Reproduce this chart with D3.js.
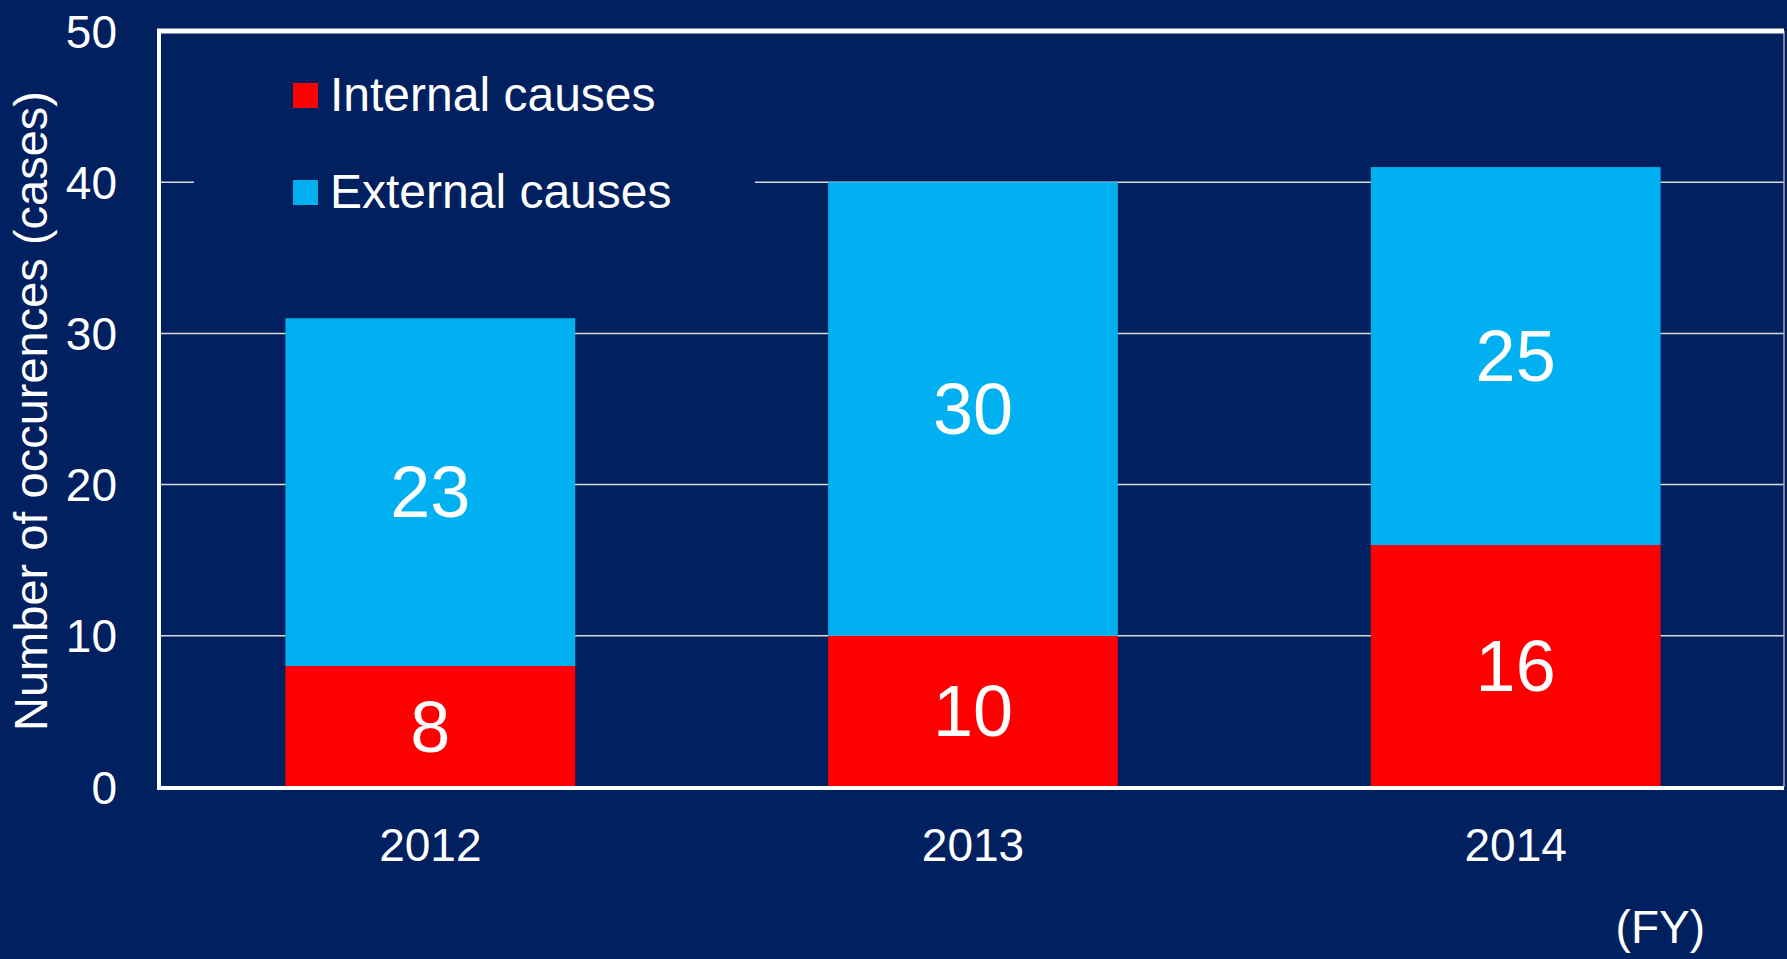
<!DOCTYPE html>
<html>
<head>
<meta charset="utf-8">
<script src="https://cdn.jsdelivr.net/npm/d3@7"></script>
<style>
  html, body { margin: 0; padding: 0; background: #002060; }
  svg { display: block; }
  text { font-family: "Liberation Sans", Arial, sans-serif; fill: #ffffff; }
</style>
</head>
<body>
<svg id="chart" width="1787" height="959"></svg>
<script>
// Fiscal years on the x axis
const years = ["2012", "2013", "2014"];
// Number of occurrences per cause, stacked bottom (internal) to top (external)
const internalCauses = [8, 10, 16];
const externalCauses = [23, 30, 25];
const seriesNames = ["Internal causes", "External causes"];
const seriesColors = ["#ff0000", "#00b0f0"];
const yTicks = [0, 10, 20, 30, 40, 50];

const W = 1787, H = 959;
const plot = { left: 159, right: 1784, top: 31, bottom: 787 };
const bg = "#002060";

const svg = d3.select("#chart");

const x = d3.scaleBand()
  .domain(years)
  .range([plot.left, W])
  .paddingInner(0.466)
  .paddingOuter(0.233);

const y = d3.scaleLinear()
  .domain([0, 50])
  .range([plot.bottom, plot.top]);

// Horizontal gridlines
svg.append("g")
  .selectAll("line")
  .data(yTicks.filter(t => t > 0 && t < 50))
  .join("line")
  .attr("x1", plot.left)
  .attr("x2", plot.right)
  .attr("y1", d => y(d))
  .attr("y2", d => y(d))
  .attr("stroke", "#d9d9d9")
  .attr("stroke-width", 1.5);

// Right edge of the plot frame
svg.append("line")
  .attr("x1", plot.right).attr("x2", plot.right)
  .attr("y1", plot.top).attr("y2", plot.bottom)
  .attr("stroke", "#a6a6a6").attr("stroke-width", 1.5);

// Stack the two series
const rows = years.map((yr, i) => ({ year: yr, internal: internalCauses[i], external: externalCauses[i] }));
const stack = d3.stack().keys(["internal", "external"]);
const layers = stack(rows);

const layerG = svg.append("g")
  .selectAll("g")
  .data(layers)
  .join("g")
  .attr("fill", (d, i) => seriesColors[i]);

layerG.selectAll("rect")
  .data(d => d)
  .join("rect")
  .attr("x", d => x(d.data.year))
  .attr("width", x.bandwidth())
  .attr("y", d => y(d[1]))
  .attr("height", d => y(d[0]) - y(d[1]));

// Value labels centred in each segment
layerG.selectAll("text")
  .data(d => d.map(s => ({ s, key: d.key })))
  .join("text")
  .attr("x", d => x(d.s.data.year) + x.bandwidth() / 2)
  .attr("y", d => y((d.s[0] + d.s[1]) / 2))
  .attr("text-anchor", "middle")
  .attr("dominant-baseline", "central")
  .attr("font-size", 72)
  .text(d => d.s.data[d.key]);

// Legend panel (sits over the gridline)
const legend = svg.append("g");
legend.append("rect")
  .attr("x", 194).attr("y", 45)
  .attr("width", 561).attr("height", 190)
  .attr("fill", bg);

const legendItems = legend.selectAll("g")
  .data(seriesNames)
  .join("g")
  .attr("transform", (d, i) => `translate(293, ${83 + i * 97})`);
legendItems.append("rect")
  .attr("width", 25).attr("height", 25)
  .attr("fill", (d, i) => seriesColors[i]);
legendItems.append("text")
  .attr("x", 37).attr("y", 28)
  .attr("font-size", 48)
  .text(d => d);

// Axis frame lines: left, bottom, top
svg.append("line")
  .attr("x1", plot.left).attr("x2", plot.left)
  .attr("y1", plot.top - 2).attr("y2", plot.bottom + 2)
  .attr("stroke", "#ffffff").attr("stroke-width", 4);
svg.append("line")
  .attr("x1", plot.left - 2).attr("x2", plot.right)
  .attr("y1", plot.bottom + 1).attr("y2", plot.bottom + 1)
  .attr("stroke", "#ffffff").attr("stroke-width", 4);
svg.append("line")
  .attr("x1", plot.left - 2).attr("x2", plot.right)
  .attr("y1", plot.top).attr("y2", plot.top)
  .attr("stroke", "#ffffff").attr("stroke-width", 5);

// Y tick labels
const yAxis = svg.append("g")
  .attr("transform", `translate(${plot.left},0)`)
  .call(d3.axisLeft(y).tickValues(yTicks).tickSize(0).tickPadding(42));
yAxis.select(".domain").remove();
yAxis.selectAll("text")
  .attr("font-size", 46)
  .attr("font-family", "Liberation Sans, Arial, sans-serif")
  .attr("fill", "#ffffff")
  .attr("dy", "0.35em");

// X tick labels
const xAxis = svg.append("g")
  .attr("transform", `translate(0,${plot.bottom})`)
  .call(d3.axisBottom(x).tickSize(0).tickPadding(41));
xAxis.select(".domain").remove();
xAxis.selectAll("text")
  .attr("font-size", 46)
  .attr("font-family", "Liberation Sans, Arial, sans-serif")
  .attr("fill", "#ffffff");

// Y axis title
svg.append("text")
  .attr("transform", `translate(47, 411) rotate(-90)`)
  .attr("text-anchor", "middle")
  .attr("font-size", 47)
  .text("Number of occurences (cases)");

// Unit note for the x axis
svg.append("text")
  .attr("x", 1705).attr("y", 943)
  .attr("text-anchor", "end")
  .attr("font-size", 46)
  .text("(FY)");
</script>
</body>
</html>
